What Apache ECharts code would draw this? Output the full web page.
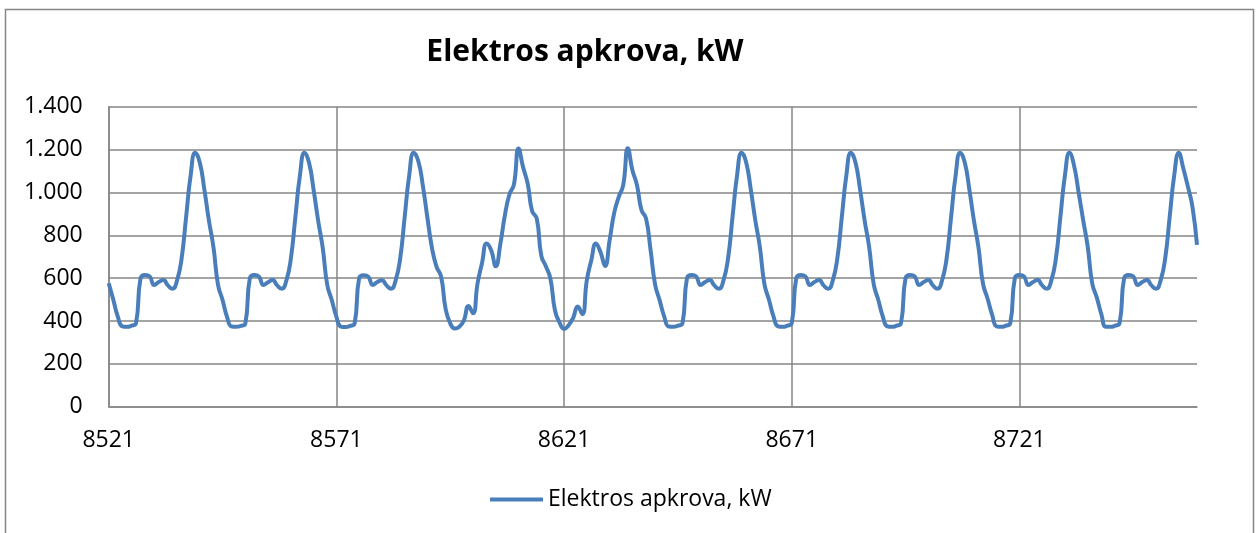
<!DOCTYPE html>
<html>
<head>
<meta charset="utf-8">
<script src="https://cdn.jsdelivr.net/npm/echarts@6/dist/echarts.min.js"></script>
<style>
  html, body { margin: 0; padding: 0; background: #ffffff; }
  #chart { width: 1258px; height: 533px; }
</style>
</head>
<body>
<div id="chart"></div>
<script>
// ---- DATA ----
var chartTitle = 'Elektros apkrova, kW';
var seriesName = 'Elektros apkrova, kW';
var firstHour = 8521;

// hourly load, kW – one array per day (24 h each)
var day1  = [576, 500, 420, 375, 373, 378, 390, 600, 615, 608, 568, 582, 591, 566, 550, 588, 690, 885, 1080, 1185, 1140, 1015, 870, 745];
var day2  = [570, 498, 418, 374, 373, 377, 388, 600, 615, 607, 568, 581, 591, 566, 550, 587, 690, 886, 1080, 1185, 1138, 1012, 868, 742];
var day3  = [568, 497, 420, 374, 372, 377, 388, 600, 614, 607, 568, 582, 590, 566, 550, 588, 690, 885, 1080, 1185, 1145, 1030, 880, 740];
var day4  = [653, 607, 455, 389, 365, 373, 402, 470, 436, 575, 672, 762, 730, 655, 758, 893, 990, 1038, 1205, 1118, 1042, 912, 879, 705];
var day5  = [655, 598, 450, 393, 363, 380, 415, 468, 432, 590, 685, 762, 722, 657, 776, 903, 978, 1035, 1206, 1105, 1035, 918, 879, 731];
var day6  = [570, 496, 420, 374, 373, 378, 389, 600, 615, 608, 568, 582, 591, 566, 550, 588, 690, 885, 1080, 1185, 1140, 1015, 870, 745];
var day7  = [572, 499, 421, 375, 373, 378, 390, 600, 615, 608, 568, 582, 591, 566, 550, 588, 690, 885, 1080, 1185, 1140, 1015, 870, 745];
var day8  = [572, 499, 421, 375, 373, 378, 390, 600, 615, 608, 568, 582, 591, 566, 550, 588, 690, 885, 1080, 1185, 1140, 1015, 870, 745];
var day9  = [574, 505, 430, 375, 373, 378, 390, 600, 615, 608, 568, 582, 591, 566, 550, 588, 690, 885, 1080, 1185, 1125, 1000, 871, 747];
var day10 = [574, 509, 431, 373, 373, 378, 390, 600, 615, 608, 568, 582, 591, 566, 550, 588, 690, 885, 1080, 1185, 1112, 1027, 933, 755];

var yTicks = [0, 200, 400, 600, 800, 1000, 1200, 1400];
var xTickLabels = ['8521', '8571', '8621', '8671', '8721'];

// ---- build ----
var loads = [].concat(day1, day2, day3, day4, day5, day6, day7, day8, day9, day10);
var hours = [];
for (var i = 0; i < loads.length; i++) { hours.push(String(firstHour + i)); }

function fmtThousands(v) {
  return String(v).replace(/\B(?=(\d{3})+(?!\d))/g, '.');
}

var FONT = '"Open Sans", "Noto Sans", sans-serif';
var GRID_COLOR = '#868686';
var LINE_COLOR = '#4a7ebb';

var chart = echarts.init(document.getElementById('chart'), null, { renderer: 'canvas' });

chart.setOption({
  animation: false,
  backgroundColor: '#ffffff',
  textStyle: { fontFamily: FONT },
  graphic: [
    {
      type: 'rect',
      shape: { x: 5.5, y: 9.5, width: 1248, height: 600 },
      style: { fill: 'none', stroke: GRID_COLOR, lineWidth: 1.5 },
      silent: true, z: -10
    },
    {
      type: 'text',
      x: 585, y: 52,
      style: {
        text: chartTitle,
        fontFamily: FONT, fontWeight: 'bold', fontSize: 30,
        fill: '#000000', textAlign: 'center', textVerticalAlign: 'middle'
      },
      silent: true
    }
  ],
  grid: { left: 108.7, right: 61, top: 106.7, bottom: 126.3, containLabel: false },
  legend: {
    data: [seriesName],
    left: 490, top: 488, padding: 0,
    itemWidth: 53, itemHeight: 26,
    textStyle: { fontFamily: FONT, fontSize: 23, color: '#000000' },
    icon: 'path://M0,11 L53,11 L53,15 L0,15 Z'
  },
  xAxis: {
    type: 'category',
    data: hours,
    boundaryGap: false,
    axisLine: { show: true, lineStyle: { color: GRID_COLOR, width: 1.5 } },
    axisTick: { show: false },
    axisLabel: {
      interval: 49, margin: 22, hideOverlap: false,
      fontFamily: FONT, fontSize: 23, color: '#000000',
      formatter: function (v) { return xTickLabels.indexOf(v) >= 0 ? v : ''; }
    },
    splitLine: { show: true, interval: 49, lineStyle: { color: GRID_COLOR, width: 1.5 } }
  },
  yAxis: {
    type: 'value',
    min: yTicks[0], max: yTicks[yTicks.length - 1], interval: yTicks[1] - yTicks[0],
    axisLine: { show: true, lineStyle: { color: GRID_COLOR, width: 1.5 } },
    axisTick: { show: false },
    axisLabel: {
      margin: 26, fontFamily: FONT, fontSize: 23, color: '#000000',
      formatter: function (v) { return fmtThousands(v); }
    },
    splitLine: { show: true, lineStyle: { color: GRID_COLOR, width: 1.5 } }
  },
  series: [{
    name: seriesName,
    type: 'line',
    data: loads,
    smooth: 0.5,
    symbol: 'none',
    lineStyle: { color: LINE_COLOR, width: 4 },
    itemStyle: { color: LINE_COLOR }
  }]
});
</script>
</body>
</html>
